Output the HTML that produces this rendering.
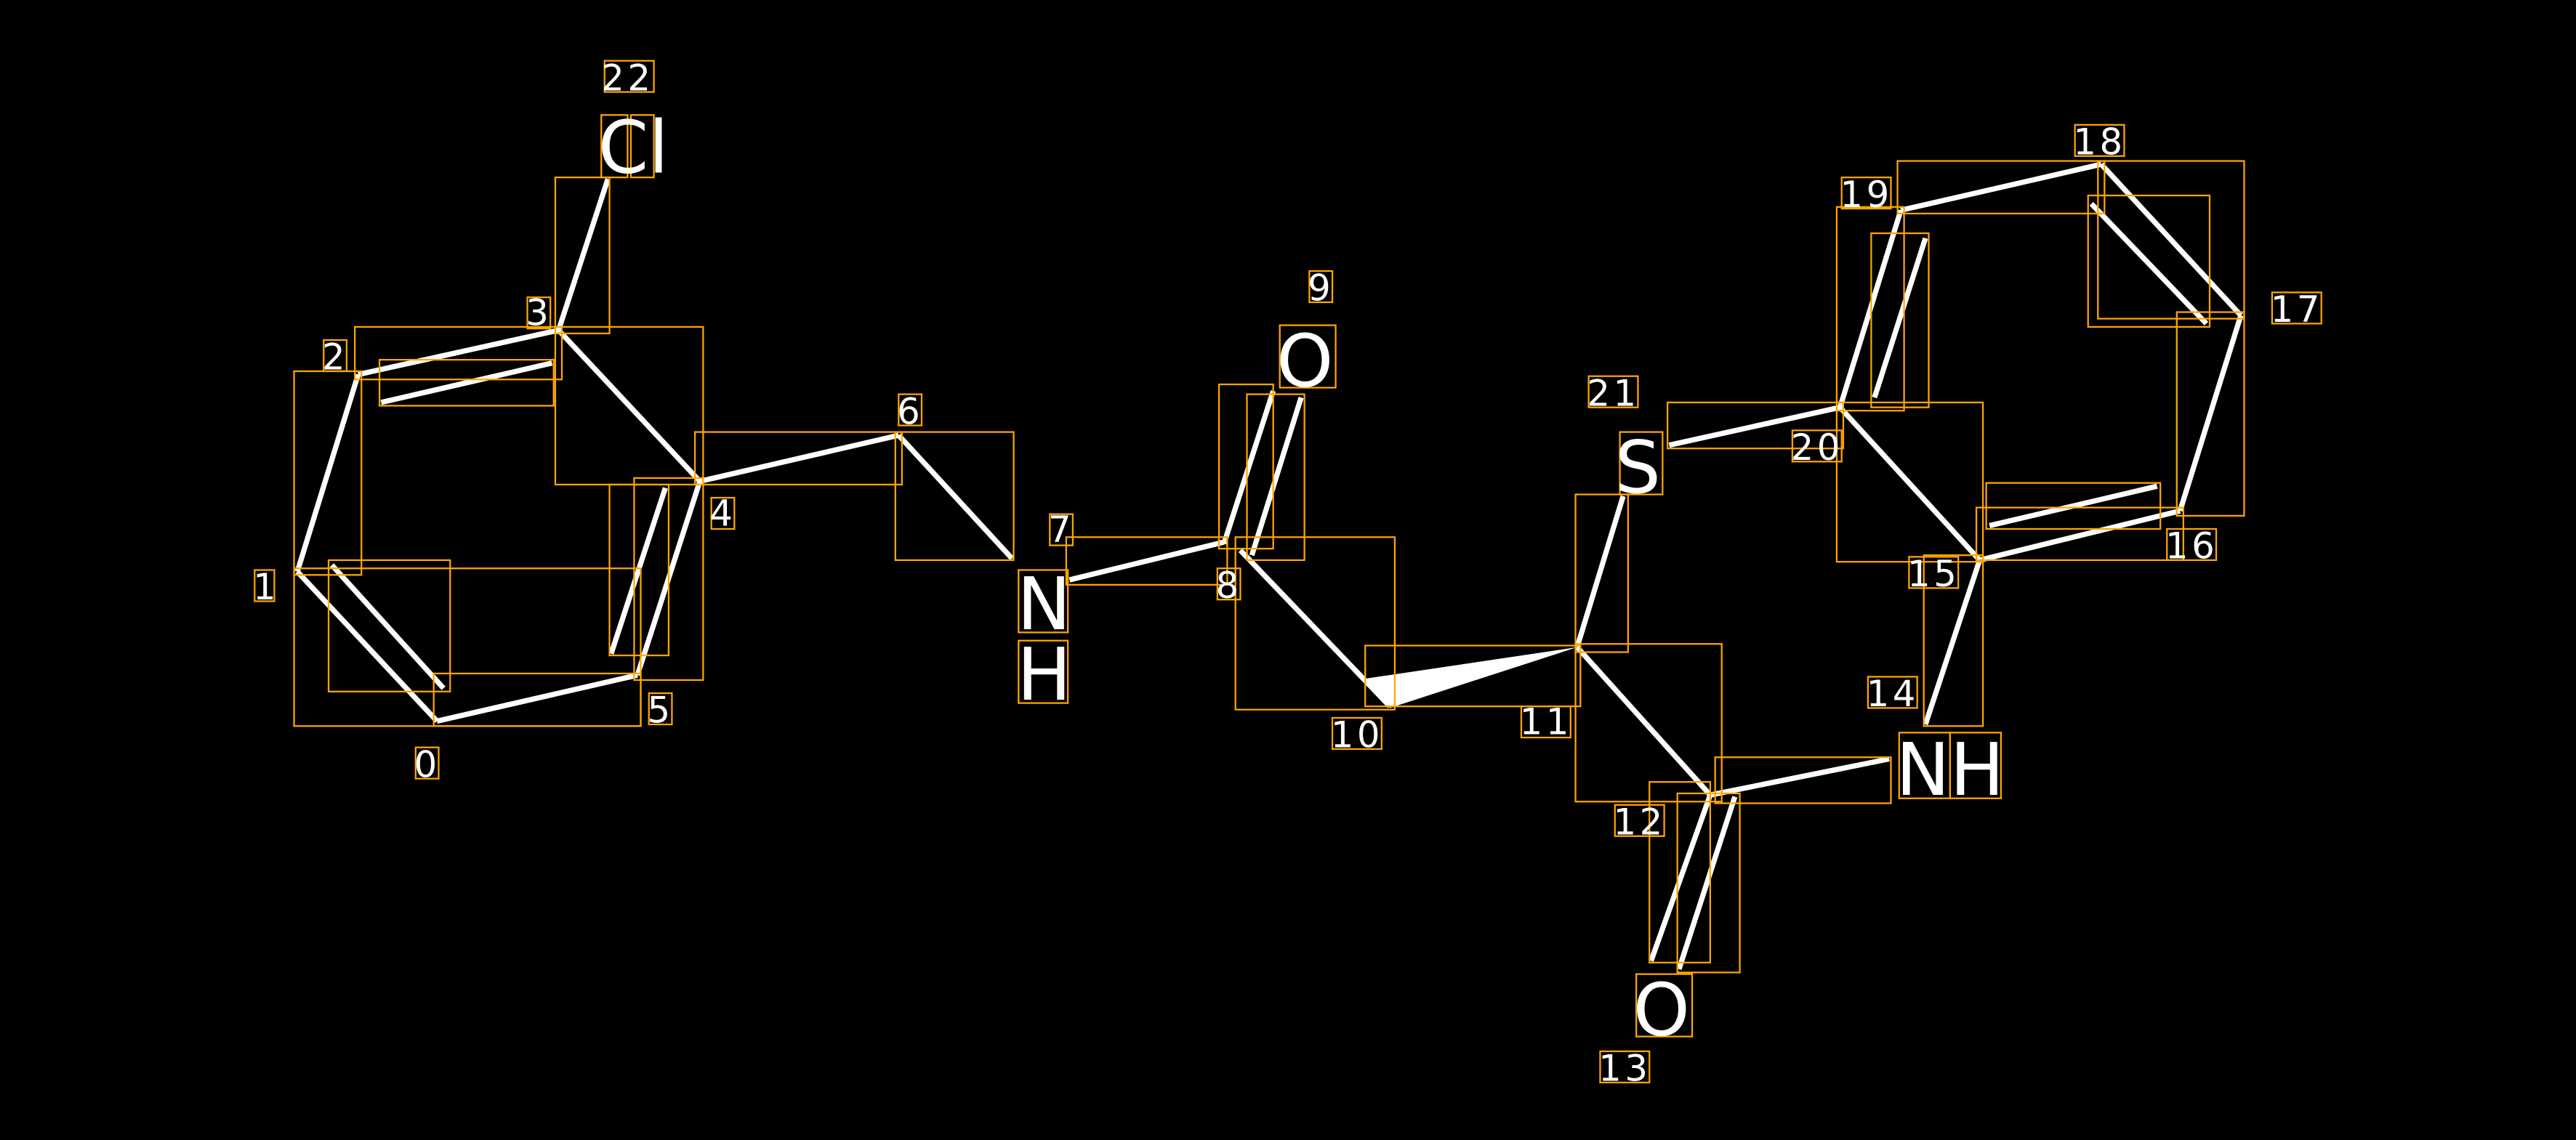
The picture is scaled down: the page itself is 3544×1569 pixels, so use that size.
<!DOCTYPE html>
<html><head><meta charset="utf-8"><style>html,body{margin:0;padding:0;background:#000;overflow:hidden}svg{display:block}</style></head>
<body>
<svg width="3544" height="1569" viewBox="0 0 1568 694" preserveAspectRatio="none" xmlns="http://www.w3.org/2000/svg">
<rect width="1568" height="694" fill="#000"/>
<g stroke="#fff" stroke-width="3.2" stroke-linecap="butt" fill="none">
<line x1="266" y1="439" x2="181" y2="348"/>
<line x1="270" y1="419" x2="202" y2="344"/>
<line x1="181" y1="348" x2="218" y2="228"/>
<line x1="218" y1="228" x2="340" y2="201"/>
<line x1="232" y1="245" x2="336" y2="221"/>
<line x1="340" y1="201" x2="426" y2="293"/>
<line x1="426" y1="293" x2="388" y2="411"/>
<line x1="405" y1="297" x2="372" y2="398"/>
<line x1="388" y1="411" x2="266" y2="439"/>
<line x1="340" y1="201" x2="370" y2="109"/>
<line x1="426" y1="293" x2="547" y2="265"/>
<line x1="547" y1="265" x2="616" y2="340"/>
<line x1="651" y1="353" x2="745" y2="330"/>
<line x1="745" y1="331" x2="775" y2="238"/>
<line x1="762" y1="338" x2="792" y2="242"/>
<line x1="755" y1="335" x2="846" y2="430"/>
<line x1="960" y1="394" x2="988" y2="302"/>
<line x1="960" y1="394" x2="1041" y2="484"/>
<line x1="1041" y1="484" x2="1005" y2="585"/>
<line x1="1056" y1="485" x2="1022" y2="590"/>
<line x1="1041" y1="484" x2="1150" y2="462"/>
<line x1="1016" y1="271" x2="1120" y2="248"/>
<line x1="1120" y1="248" x2="1157" y2="128"/>
<line x1="1141" y1="242" x2="1172" y2="145"/>
<line x1="1157" y1="128" x2="1279" y2="100"/>
<line x1="1279" y1="100" x2="1364" y2="192"/>
<line x1="1273" y1="124" x2="1343" y2="197"/>
<line x1="1364" y1="192" x2="1327" y2="311"/>
<line x1="1327" y1="311" x2="1205" y2="341"/>
<line x1="1211" y1="320" x2="1313" y2="296"/>
<line x1="1205" y1="341" x2="1120" y2="248"/>
<line x1="1205" y1="341" x2="1172" y2="441"/>
</g>
<polygon points="960,394 832,413 846,431" fill="#fff"/>
<g stroke="#ffa500" stroke-width="1" fill="none">
<rect x="179" y="226" width="41" height="124"/>
<rect x="179" y="346" width="211" height="96"/>
<rect x="200" y="341" width="74" height="80"/>
<rect x="216" y="199" width="126" height="32"/>
<rect x="231" y="219" width="106" height="28"/>
<rect x="338" y="199" width="90" height="96"/>
<rect x="338" y="108" width="33" height="95"/>
<rect x="386" y="291" width="42" height="123"/>
<rect x="371" y="295" width="36" height="104"/>
<rect x="264" y="410" width="126" height="32"/>
<rect x="423" y="263" width="126" height="32"/>
<rect x="545" y="263" width="72" height="78"/>
<rect x="649" y="327" width="98" height="29"/>
<rect x="742" y="234" width="33" height="100"/>
<rect x="759" y="240" width="35" height="101"/>
<rect x="752" y="327" width="97" height="105"/>
<rect x="831" y="393" width="131" height="37"/>
<rect x="959" y="301" width="32" height="96"/>
<rect x="959" y="392" width="89" height="96"/>
<rect x="1004" y="476" width="37" height="110"/>
<rect x="1021" y="483" width="38" height="109"/>
<rect x="1044" y="461" width="107" height="28"/>
<rect x="1015" y="245" width="107" height="28"/>
<rect x="1118" y="126" width="41" height="124"/>
<rect x="1139" y="142" width="35" height="106"/>
<rect x="1155" y="98" width="126" height="32"/>
<rect x="1271" y="119" width="74" height="80"/>
<rect x="1277" y="98" width="89" height="96"/>
<rect x="1325" y="190" width="41" height="124"/>
<rect x="1203" y="309" width="126" height="32"/>
<rect x="1209" y="294" width="106" height="28"/>
<rect x="1118" y="245" width="89" height="97"/>
<rect x="1171" y="338" width="36" height="104"/>
<rect x="366" y="70" width="16" height="38"/><rect x="384" y="70" width="14" height="38"/>
<rect x="620" y="347" width="30" height="38"/><rect x="620" y="390" width="30" height="38"/>
<rect x="779" y="198" width="34" height="38"/>
<rect x="986" y="263" width="26" height="38"/>
<rect x="996" y="593" width="34" height="38"/>
<rect x="1156" y="446" width="31" height="40"/><rect x="1187" y="446" width="31" height="40"/>
<rect x="155" y="347" width="12" height="19"/>
<rect x="253" y="455" width="14" height="19"/>
<rect x="197" y="207" width="14" height="19"/>
<rect x="321" y="181" width="14" height="19"/>
<rect x="433" y="303" width="14" height="19"/>
<rect x="395" y="422" width="14" height="19"/>
<rect x="547" y="240" width="14" height="19"/>
<rect x="639" y="313" width="14" height="19"/>
<rect x="741" y="346" width="14" height="19"/>
<rect x="797" y="165" width="14" height="19"/>
<rect x="368" y="37" width="30" height="19"/>
<rect x="811" y="437" width="30" height="19"/>
<rect x="926" y="430" width="30" height="19"/>
<rect x="983" y="490" width="30" height="19"/>
<rect x="974" y="640" width="30" height="19"/>
<rect x="1137" y="412" width="30" height="19"/>
<rect x="1162" y="339" width="30" height="19"/>
<rect x="1319" y="322" width="30" height="19"/>
<rect x="1383" y="178" width="30" height="19"/>
<rect x="1263" y="76" width="30" height="19"/>
<rect x="1121" y="108" width="30" height="19"/>
<rect x="967" y="229" width="30" height="19"/>
<rect x="1091" y="262" width="30" height="19"/>
</g>
<g fill="#fff" font-family="'DejaVu Sans','Liberation Sans',sans-serif">
<g font-size="44">
<text x="364" y="105">Cl</text>
<text x="619" y="383">N</text>
<text x="619" y="426">H</text>
<text x="777" y="235">O</text>
<text x="983" y="300">S</text>
<text x="994" y="630">O</text>
<text x="1154" y="484">NH</text>
</g>
<g font-size="22" letter-spacing="2">
<text x="366" y="55">22</text>
<text x="154" y="365">1</text>
<text x="252" y="473">0</text>
<text x="196" y="225">2</text>
<text x="320" y="198">3</text>
<text x="432" y="320">4</text>
<text x="394" y="440">5</text>
<text x="546" y="258">6</text>
<text x="638" y="330">7</text>
<text x="740" y="364">8</text>
<text x="796" y="183">9</text>
<text x="810" y="455">10</text>
<text x="925" y="447">11</text>
<text x="982" y="508">12</text>
<text x="973" y="658">13</text>
<text x="1136" y="430">14</text>
<text x="1161" y="357">15</text>
<text x="1318" y="340">16</text>
<text x="1382" y="196">17</text>
<text x="1262" y="94">18</text>
<text x="1120" y="126">19</text>
<text x="966" y="247">21</text>
<text x="1090" y="280">20</text>
</g>
</g>
</svg>
</body></html>
